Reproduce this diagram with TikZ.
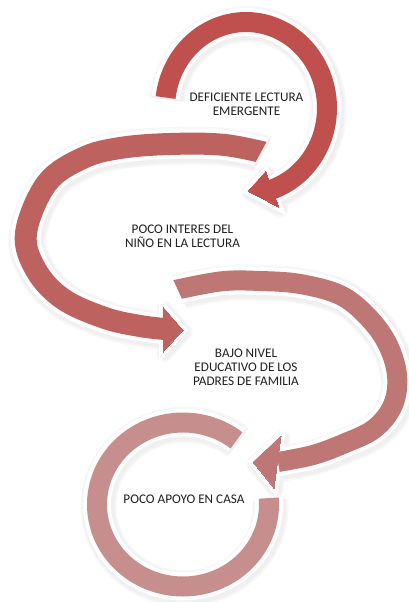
\documentclass[tikz,border=0pt]{standalone}
\usepackage{fontspec}
\setmainfont{Carlito}
\definecolor{cA}{HTML}{C0504D}
\definecolor{cB}{HTML}{BD625F}
\definecolor{cC}{HTML}{BE7775}
\definecolor{cD}{HTML}{C68E8C}
% #1 band width, #2 head outline width, #3-#6 colours, #7 join
\newcommand\drawlayer[7]{%
  % arrow 1
  \draw[#3, line width=#1] plot[domain=187:432, samples=100, variable=\t] ({246+81*cos(\t)},{108+86*sin(\t)});
  \filldraw[#3, line width=#2, line join=#7] (265.9,171.4) -- (248,191) -- (278.9,207.2) -- cycle;
  % arrow 2
  \begin{scope}
    \clip (-10,-10) -- (349.5,-10) -- (240.3,190) -- (420,190) -- (420,610) -- (-10,610) -- cycle;
    \draw[#4, line width=#1+2pt] plot[smooth, tension=0.6] coordinates {(274,155) (225,145) (170,144) (120,148) (83,158) (47,183) (26,233) (36,270) (63,299) (105,318) (140,326) (165,329)};
  \end{scope}
  \filldraw[#4, line width=#2, line join=#7] (163,307) -- (183,330) -- (163,352) -- cycle;
  % arrow 3
  \begin{scope}
    \clip (159.5,250) -- (191.7,320) -- (191.7,610) -- (420,610) -- (420,250) -- cycle;
    \draw[#5, line width=#1] plot[smooth, tension=0.6] coordinates {(166,292) (220,281.5) (260,281) (300,284) (340,295) (367,316) (387,343) (397,375) (393,405) (374,429) (343,444) (313,455) (278,462)};
  \end{scope}
  \filldraw[#5, line width=#2, line join=#7] (281,436) -- (253,462) -- (274,488) -- cycle;
  % arrow 4
  \draw[#6, line width=#1] plot[domain=-51.5:-364.5, samples=120, variable=\t] ({183+86*cos(\t)},{504.5+82*sin(\t)});
}
\begin{document}
\begin{tikzpicture}[x=1pt,y=-1pt,
  lbl/.style={font=\fontsize{13.2}{14.2}\selectfont, text=black!88, align=center, inner sep=0pt}]
\useasboundingbox (0,0) rectangle (409,602);
\begin{scope}[shift={(1.5,2)}]
  \drawlayer{36pt}{16pt}{black!3}{black!3}{black!3}{black!3}{round}
  \drawlayer{32pt}{12pt}{black!6}{black!6}{black!6}{black!6}{round}
\end{scope}
\drawlayer{28pt}{8pt}{white}{white}{white}{white}{miter}
\drawlayer{20pt}{0pt}{cA}{cB}{cC}{cD}{miter}
\node[lbl] (t1) at (246.5,104.5) {DEFICIENTE LECTURA\\EMERGENTE};
\node[lbl] (t2) at (182.5,236.2) {POCO INTERES DEL\\NIÑO EN LA LECTURA};
\node[lbl] (t3) at (246,367.5) {BAJO NIVEL\\EDUCATIVO DE LOS\\PADRES DE FAMILIA};
\node[lbl] (t4) at (184,499) {POCO APOYO EN CASA};
\end{tikzpicture}
\end{document}
